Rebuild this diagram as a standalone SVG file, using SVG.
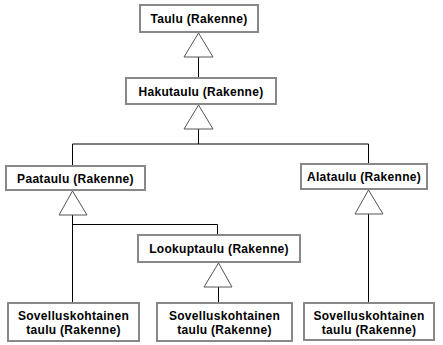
<svg xmlns="http://www.w3.org/2000/svg" width="443" height="345" viewBox="0 0 443 345">
<style>
.box{fill:#fff;stroke:#888;stroke-width:2}
.tri{fill:#fff;stroke:#555;stroke-width:1}
.ln{fill:none;stroke:#000;stroke-width:1}
text{font-family:"Liberation Sans",Arial,sans-serif;font-weight:bold;font-size:12px;letter-spacing:0.3px;fill:#000;text-anchor:middle}
</style>
<rect width="443" height="345" fill="#fff"/>
<g id="connectors">
<path class="ln" d="M198.5 57V78"/>
<path class="ln" d="M198.5 129V144M72.5 144H368.5M72.5 144V166M368.5 144V164"/>
<path class="ln" d="M72.5 215V303M72.5 224.5H217.5V235"/>
<path class="ln" d="M368.5 214V303"/>
<path class="ln" d="M218.5 287V303"/>
<polygon class="tri" points="198.5,33 184,57 213,57"/>
<polygon class="tri" points="198.5,105 184,129 213,129"/>
<polygon class="tri" points="72.5,191 59,215 87,215"/>
<polygon class="tri" points="368.5,190 355,214 383,214"/>
<polygon class="tri" points="218.5,263 204,287 232,287"/>
</g>
<g id="taulu"><rect class="box" x="140" y="5" width="118" height="27"/><text x="199" y="23">Taulu (Rakenne)</text></g>
<g id="hakutaulu"><rect class="box" x="126" y="78" width="150" height="26"/><text x="201" y="95.5">Hakutaulu (Rakenne)</text></g>
<g id="paataulu"><rect class="box" x="6" y="166" width="139" height="24"/><text x="75.5" y="182.5">Paataulu (Rakenne)</text></g>
<g id="alataulu"><rect class="box" x="301" y="164" width="126" height="25"/><text x="364" y="181">Alataulu (Rakenne)</text></g>
<g id="lookuptaulu"><rect class="box" x="138" y="235" width="162" height="27"/><text x="219" y="253">Lookuptaulu (Rakenne)</text></g>
<g id="sovellus1"><rect class="box" x="8" y="303" width="131" height="38"/><text x="73.5" y="319.5">Sovelluskohtainen</text><text x="73.5" y="333.5">taulu (Rakenne)</text></g>
<g id="sovellus2"><rect class="box" x="157" y="303" width="135" height="38"/><text x="224.5" y="319.5">Sovelluskohtainen</text><text x="224.5" y="333.5">taulu (Rakenne)</text></g>
<g id="sovellus3"><rect class="box" x="304" y="303" width="130" height="37"/><text x="369" y="319.5">Sovelluskohtainen</text><text x="369" y="333.5">taulu (Rakenne)</text></g>
</svg>
